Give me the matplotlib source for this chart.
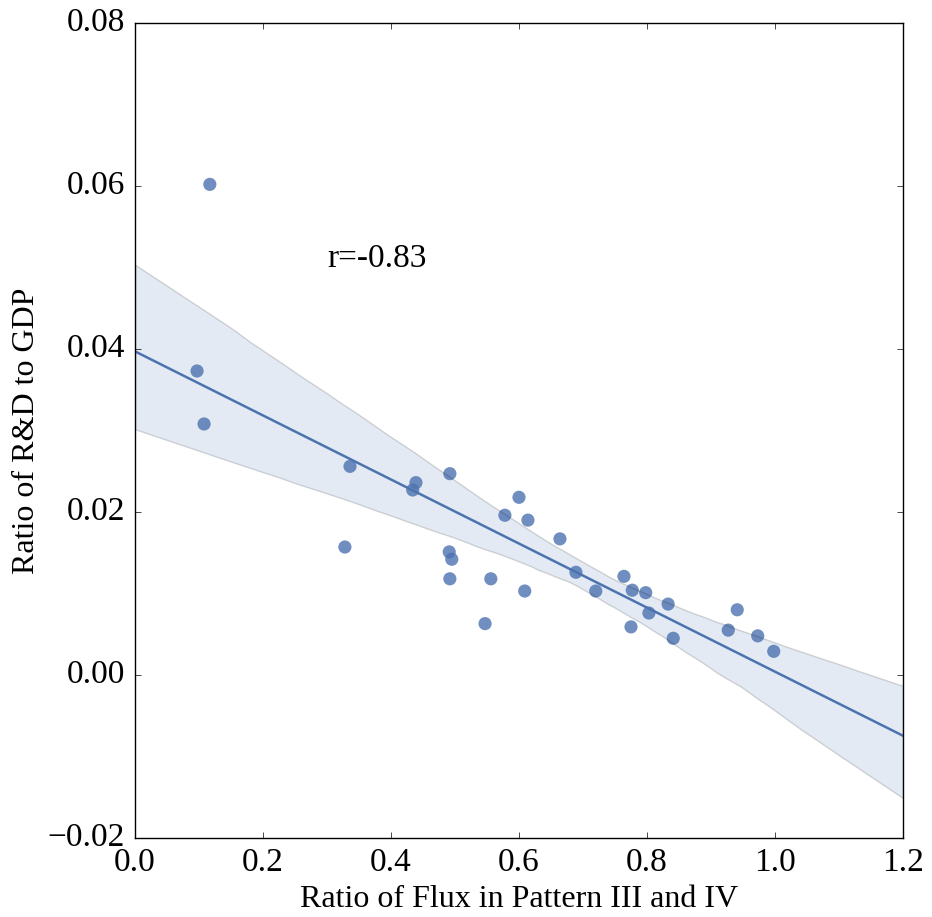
import numpy as np
import matplotlib
matplotlib.use("Agg")
import matplotlib.pyplot as plt
import seaborn as sns

# values
flux_ratio = [0.117, 0.097, 0.108, 0.336, 0.328, 0.434, 0.439, 0.492, 0.491, 0.495,
              0.492, 0.547, 0.556, 0.578, 0.600, 0.614, 0.609, 0.664, 0.689, 0.720,
              0.764, 0.777, 0.775, 0.798, 0.803, 0.833, 0.841, 0.927, 0.941, 0.973,
              0.998]
rd_gdp = [0.0602, 0.0373, 0.0308, 0.0256, 0.0157, 0.0227, 0.0236, 0.0247, 0.0151, 0.0142,
          0.0118, 0.0063, 0.0118, 0.0196, 0.0218, 0.0190, 0.0103, 0.0167, 0.0126, 0.0103,
          0.0121, 0.0104, 0.0059, 0.0101, 0.0076, 0.0087, 0.0045, 0.0055, 0.0080, 0.0048,
          0.0029]
r_text = "r=-0.83"

plt.style.use("classic")
plt.rcParams["font.family"] = ["Liberation Serif", "DejaVu Serif"]
plt.rcParams["figure.facecolor"] = "white"
plt.rcParams["savefig.facecolor"] = "white"

fig = plt.figure(figsize=(9.32, 9.17), dpi=100)
ax = fig.add_axes([0.1448, 0.0862, 0.8241, 0.8887])
ax.set_xlim(0, 1.2)
ax.set_ylim(-0.02, 0.08)

sns.regplot(x=np.array(flux_ratio), y=np.array(rd_gdp), ax=ax, color="#4C72B0",
            truncate=False, seed=0,
            scatter_kws={"s": 90, "alpha": 0.8, "edgecolor": "none"},
            line_kws={"lw": 1.8})
ax.set_xlim(0, 1.2)
ax.set_ylim(-0.02, 0.08)

ax.text(0.3, 0.05, r_text, fontsize=24)
ax.set_xlabel("Ratio of Flux in Pattern III and IV", fontsize=23)
ax.set_ylabel("Ratio of R&D to GDP", fontsize=23)
ax.tick_params(labelsize=24, pad=7)

fig.savefig("out.png", dpi=100)
